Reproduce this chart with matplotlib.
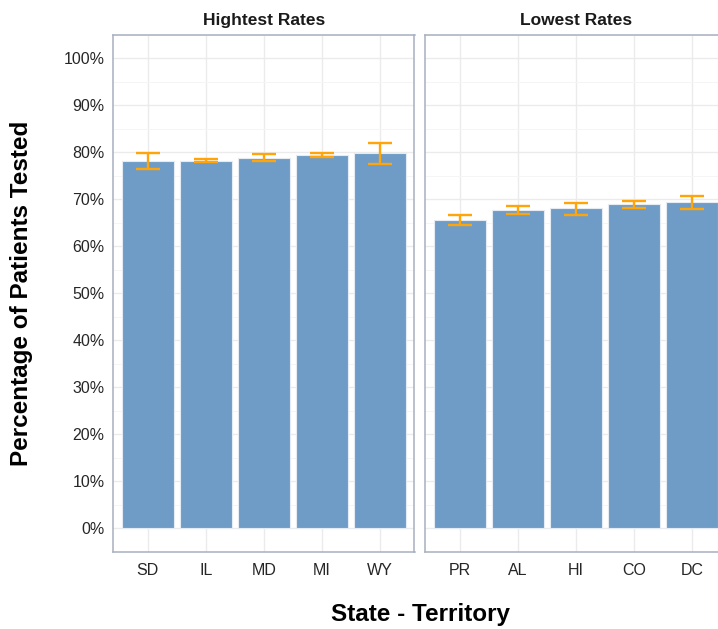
#!/usr/bin/env python3

import matplotlib
matplotlib.use("Agg")
import matplotlib.pyplot as plt
from matplotlib.ticker import FuncFormatter, MultipleLocator

plt.rcParams["font.family"] = ["Liberation Sans", "DejaVu Sans"]

# testing rates per state / territory (share of patients tested)
high_states = ["SD", "IL", "MD", "MI", "WY"]
high_rate = [0.782, 0.782, 0.788, 0.794, 0.797]
high_lower = [0.764, 0.778, 0.782, 0.790, 0.774]
high_upper = [0.799, 0.786, 0.795, 0.797, 0.819]

low_states = ["PR", "AL", "HI", "CO", "DC"]
low_rate = [0.656, 0.676, 0.680, 0.689, 0.693]
low_lower = [0.645, 0.669, 0.666, 0.682, 0.679]
low_upper = [0.666, 0.685, 0.692, 0.696, 0.706]

panels = [
    ("Hightest Rates", high_states, high_rate, high_lower, high_upper),
    ("Lowest Rates", low_states, low_rate, low_lower, low_upper),
]

BAR = "#6f9cc6"
ERR = "#ffa50a"
BORDER = "#a7b0bf"

W, H = 718, 629
fig = plt.figure(figsize=(W / 100, H / 100), dpi=100)

# panel boxes in pixel coordinates (left, top, right, bottom)
boxes = [(113, 34.5, 414.5, 551.7), (425, 34.5, 727, 551.7)]

for i, ((title, states, rate, lo, hi), (l, t, r, b)) in enumerate(zip(panels, boxes)):
    ax = fig.add_axes([l / W, 1 - b / H, (r - l) / W, (b - t) / H])
    x = list(range(len(states)))
    ax.bar(x, rate, width=0.9, color=BAR, edgecolor="#e4ebf3", linewidth=0.8, zorder=2)
    yerr = [[v - a for v, a in zip(rate, lo)], [c - v for v, c in zip(rate, hi)]]
    ax.errorbar(x, rate, yerr=yerr, fmt="none", ecolor=ERR, elinewidth=1.7,
                capsize=8.3, capthick=1.7, zorder=3)

    ax.set_xlim(-0.6, len(states) - 0.4)
    ax.set_ylim(-0.05, 1.05)
    ax.set_xticks(x)
    ax.set_xticklabels(states)
    ax.yaxis.set_major_locator(MultipleLocator(0.1))
    ax.yaxis.set_minor_locator(MultipleLocator(0.05))
    ax.yaxis.set_major_formatter(FuncFormatter(lambda v, p: f"{v * 100:.0f}%"))

    ax.grid(True, which="major", color="#ebebeb", linewidth=1.0, zorder=0)
    ax.grid(True, which="minor", axis="y", color="#f5f5f5", linewidth=0.7, zorder=0)
    ax.set_axisbelow(True)

    for s in ax.spines.values():
        s.set_color(BORDER)
        s.set_linewidth(1.1)

    ax.tick_params(axis="both", which="both", length=0, labelsize=11.5,
                   labelcolor="#262626")
    ax.tick_params(axis="x", pad=8)
    ax.tick_params(axis="y", pad=6)
    if i == 1:
        ax.tick_params(axis="y", labelleft=False)

    ax.set_title(title, fontsize=12.5, fontweight="bold", color="#1a1a1a", pad=7)

fig.text(22 / W, 1 - 293 / H, "Percentage of Patients Tested", rotation=90,
         ha="center", va="center", fontsize=17.5, fontweight="bold", color="black")
fig.text(420 / W, 1 - 614 / H, "State - Territory", ha="center", va="center",
         fontsize=17.5, fontweight="bold", color="black")

fig.savefig("out.png", dpi=100, facecolor="white")
